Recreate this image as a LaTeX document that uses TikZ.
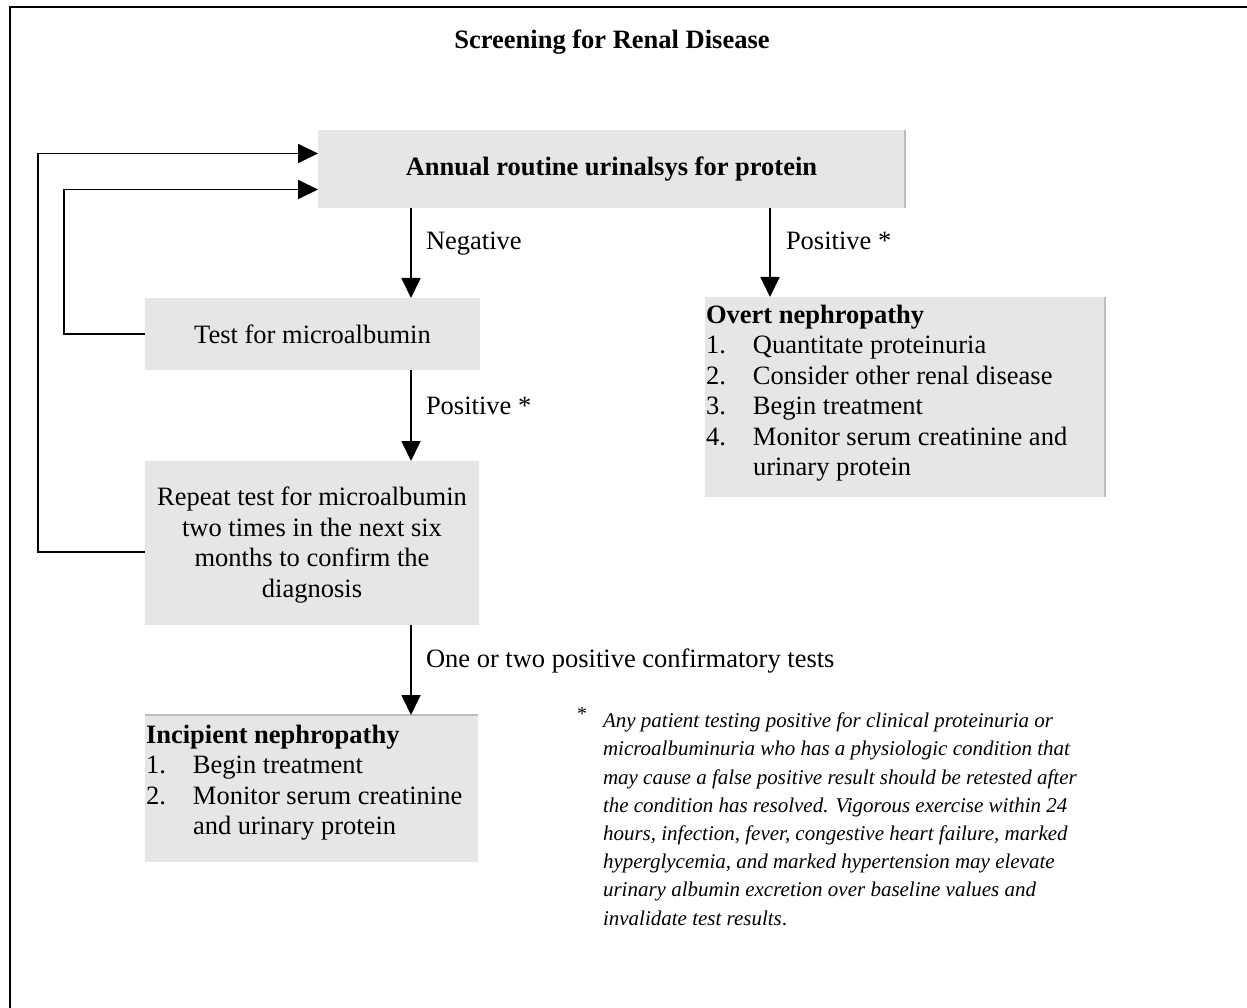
\documentclass[tikz,border=0pt]{standalone}
\usepackage{fontspec}
\setmainfont{Liberation Serif}
\usetikzlibrary{arrows.meta}
\definecolor{boxgray}{HTML}{E6E6E6}
\definecolor{edgegray}{HTML}{BDBDBD}
\newcommand{\itemno}[1]{\makebox[47pt][l]{#1}}
\begin{document}
\begin{tikzpicture}[x=1pt,y=-1pt,
  every node/.style={inner sep=0pt,outer sep=0pt},
  body/.style={font=\fontsize{26.5}{30.5}\selectfont},
  flowbox/.style={fill=boxgray,anchor=north west},
  centertext/.style={body,align=center},
  listtext/.style={body,align=left,anchor=north west},
  edgelabel/.style={body,anchor=base west},
  flow/.style={line width=1.8pt,-{Triangle[length=20pt,width=19pt]}},
  loop/.style={line width=1.8pt,-{Triangle[length=20pt,width=19pt]}},
  rim/.style={line width=2.2pt,edgegray},
  frame/.style={line width=2.4pt}]
\useasboundingbox (0,0) rectangle (1247,1008);

% page frame (left and top rules)
\draw[frame] (10,1008) -- (10,7) -- (1247,7);

% title
\node[body,font=\fontsize{26.5}{30.5}\selectfont\bfseries] (title) at (612,42) {Screening for Renal Disease};

% boxes
\node[flowbox,minimum width=587pt,minimum height=78pt] (annual) at (318,130) {};
\draw[rim] (annual.north east) -- (annual.south east);
\node[centertext,font=\fontsize{26.5}{30.5}\selectfont\bfseries] (annualtxt) at (annual.center) {Annual routine urinalsys for protein};

\node[flowbox,minimum width=335pt,minimum height=72pt] (test) at (145,298) {};
\node[centertext] (testtxt) at (test.center) {Test for microalbumin};

\node[flowbox,minimum width=334pt,minimum height=164pt] (repeat) at (145,461) {};
\node[centertext] (repeattxt) at ([yshift=-2pt]repeat.center) {Repeat test for microalbumin\\two times in the next six\\months to confirm the\\diagnosis};

\node[flowbox,minimum width=400pt,minimum height=200pt] (overt) at (705,297) {};
\draw[rim] (overt.north east) -- (overt.south east);
\node[listtext] (overttxt) at (706,305) {\textbf{Overt nephropathy}\\
  \itemno{1.}Quantitate proteinuria\\
  \itemno{2.}Consider other renal disease\\
  \itemno{3.}Begin treatment\\
  \itemno{4.}Monitor serum creatinine and\\
  \itemno{}urinary protein};

\node[flowbox,minimum width=333pt,minimum height=147pt] (incip) at (145,715) {};
\draw[rim] (incip.north west) -- (incip.north east);
\node[listtext] (incitxt) at (146,725) {\textbf{Incipient nephropathy}\\
  \itemno{1.}Begin treatment\\
  \itemno{2.}Monitor serum creatinine\\
  \itemno{}and urinary protein};

% footnote
\node[anchor=north west,font=\fontsize{20}{20}\selectfont] (star) at (577,707) {*};
\node[anchor=north west,align=left,font=\fontsize{21}{28.2}\selectfont\itshape] (note) at (603,713) {Any patient testing positive for clinical proteinuria or\\
microalbuminuria who has a physiologic condition that\\
may cause a false positive result should be retested after\\
the condition has resolved. Vigorous exercise within 24\\
hours, infection, fever, congestive heart failure, marked\\
hyperglycemia, and marked hypertension may elevate\\
urinary albumin excretion over baseline values and\\
invalidate test results{\upshape.}};

% connector columns
\coordinate (leftcol) at (411,0);
\coordinate (rightcol) at (770,0);
\coordinate (outerloop) at (38,0);
\coordinate (innerloop) at (64,0);
\coordinate (annualin1) at ([yshift=15.5pt]annual.west);
\coordinate (annualin2) at ([yshift=-20.5pt]annual.west);
\coordinate (repeatout) at ([yshift=-9pt]repeat.west);

% main flow
\draw[flow] (annual.south -| leftcol) -- (test.north -| leftcol);
\draw[flow] (annual.south -| rightcol) -- (overt.north -| rightcol);
\draw[flow] (test.south -| leftcol) -- (repeat.north -| leftcol);
\draw[flow] (repeat.south -| leftcol) -- (incip.north -| leftcol);

\node[edgelabel] (lneg) at (426,250) {Negative};
\node[edgelabel] (lpos1) at (786,250) {Positive *};
\node[edgelabel] (lpos2) at (426,414) {Positive *};
\node[edgelabel] (lconf) at (426,667) {One or two positive confirmatory tests};

% return loops
\draw[loop] (repeatout) -- (repeatout -| outerloop) -- (annualin1 -| outerloop) -- (annualin1);
\draw[loop] (test.west) -- (test.west -| innerloop) -- (annualin2 -| innerloop) -- (annualin2);
\end{tikzpicture}
\end{document}
